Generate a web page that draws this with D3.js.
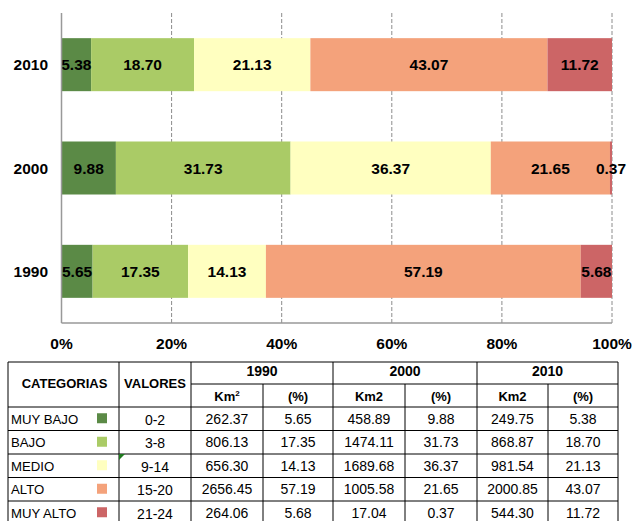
<!DOCTYPE html>
<html>
<head>
<meta charset="utf-8">
<script src="https://cdn.jsdelivr.net/npm/d3@7"></script>
<style>
  html, body { margin: 0; padding: 0; background: #fff; }
  svg { display: block; }
</style>
</head>
<body>
<svg id="chart" width="635" height="521"></svg>
<script>
// Land categories by elevation class and their share per year
const years = ["1990", "2000", "2010"];
const categories = ["MUY BAJO", "BAJO", "MEDIO", "ALTO", "MUY ALTO"];
const valueRanges = ["0-2", "3-8", "9-14", "15-20", "21-24"];
const km1990 = [262.37, 806.13, 656.30, 2656.45, 264.06];
const pct1990 = [5.65, 17.35, 14.13, 57.19, 5.68];
const km2000 = [458.89, 1474.11, 1689.68, 1005.58, 17.04];
const pct2000 = [9.88, 31.73, 36.37, 21.65, 0.37];
const km2010 = [249.75, 868.87, 981.54, 2000.85, 544.30];
const pct2010 = [5.38, 18.70, 21.13, 43.07, 11.72];
const tickValues = [0, 20, 40, 60, 80, 100];
const tickLabels = ["0%", "20%", "40%", "60%", "80%", "100%"];

const colors = ["#5b8a46", "#aacb66", "#ffffc0", "#f4a27b", "#cc6566"];
const pctByYear = { "1990": pct1990, "2000": pct2000, "2010": pct2010 };
const kmByYear = { "1990": km1990, "2000": km2000, "2010": km2010 };

const svg = d3.select("#chart");
const FONT = "'Liberation Sans', Arial, Helvetica, sans-serif";

// ---------- stacked 100% bar chart ----------
const plot = { left: 61.5, right: 612, top: 13, bottom: 323 };

const x = d3.scaleLinear().domain([0, 100]).range([plot.left, plot.right]);
const y = d3.scaleBand()
  .domain(["2010", "2000", "1990"])
  .range([plot.top, plot.bottom])
  .paddingInner(0.487)
  .paddingOuter(0.2435);

// dashed vertical gridlines
svg.append("g")
  .selectAll("line")
  .data(tickValues.slice(1))
  .join("line")
  .attr("x1", d => x(d)).attr("x2", d => x(d))
  .attr("y1", plot.top).attr("y2", plot.bottom)
  .attr("stroke", "#8c8c8c")
  .attr("stroke-width", 1)
  .attr("stroke-dasharray", "4,2");

// stacked segments
const rows = years.map(yr => {
  const obj = { year: yr };
  categories.forEach((c, i) => { obj[c] = pctByYear[yr][i]; });
  return obj;
});
const stack = d3.stack().keys(categories);
const series = stack(rows);

const segG = svg.append("g");
series.forEach((s, ci) => {
  segG.selectAll(null)
    .data(s)
    .join("rect")
    .attr("x", d => x(d[0]))
    .attr("width", d => x(d[1]) - x(d[0]))
    .attr("y", d => y(d.data.year))
    .attr("height", y.bandwidth())
    .attr("fill", colors[ci]);
});

// value labels centred on each segment
series.forEach((s, ci) => {
  segG.selectAll(null)
    .data(s)
    .join("text")
    .attr("x", d => (x(d[0]) + x(d[1])) / 2)
    .attr("y", d => y(d.data.year) + y.bandwidth() / 2)
    .attr("dy", "0.36em")
    .attr("text-anchor", "middle")
    .attr("font-family", FONT)
    .attr("font-weight", "bold")
    .attr("font-size", 15.5)
    .attr("fill", "#000")
    .text(d => (d[1] - d[0]).toFixed(2));
});

// axes lines
svg.append("line")
  .attr("x1", plot.left).attr("x2", plot.left)
  .attr("y1", plot.top).attr("y2", plot.bottom)
  .attr("stroke", "#999").attr("stroke-width", 1.5);
svg.append("line")
  .attr("x1", plot.left).attr("x2", plot.right)
  .attr("y1", plot.bottom).attr("y2", plot.bottom)
  .attr("stroke", "#999").attr("stroke-width", 1.5);

// x tick labels
svg.append("g")
  .selectAll("text")
  .data(tickValues)
  .join("text")
  .attr("x", d => x(d))
  .attr("y", 343)
  .attr("dy", "0.36em")
  .attr("text-anchor", "middle")
  .attr("font-family", FONT)
  .attr("font-weight", "bold")
  .attr("font-size", 15.5)
  .text((d, i) => tickLabels[i]);

// y category labels
svg.append("g")
  .selectAll("text")
  .data(y.domain())
  .join("text")
  .attr("x", 48)
  .attr("y", d => y(d) + y.bandwidth() / 2)
  .attr("dy", "0.36em")
  .attr("text-anchor", "end")
  .attr("font-family", FONT)
  .attr("font-weight", "bold")
  .attr("font-size", 15.5)
  .text(d => d);

// ---------- data table ----------
const colX = [8, 119, 191, 263, 333, 405, 477, 548, 618];
const rowY = [362, 384, 407, 430.5, 454, 477.5, 501, 524.5];
const tbl = svg.append("g").attr("font-family", FONT).attr("fill", "#000");
const line = (x1, y1, x2, y2) => tbl.append("line")
  .attr("x1", x1).attr("y1", y1).attr("x2", x2).attr("y2", y2)
  .attr("stroke", "#000").attr("stroke-width", 1);

// outer and horizontal rules
line(colX[0], rowY[0], colX[8], rowY[0]);
line(colX[2], rowY[1], colX[8], rowY[1]);
for (let r = 2; r < rowY.length; r++) line(colX[0], rowY[r], colX[8], rowY[r]);
// vertical rules
[0, 1, 2, 4, 6, 8].forEach(c => line(colX[c], rowY[0], colX[c], rowY[7]));
[3, 5, 7].forEach(c => line(colX[c], rowY[1], colX[c], rowY[7]));

const txt = (t, cx, cy, opts = {}) => tbl.append("text")
  .attr("x", cx).attr("y", cy).attr("dy", "0.36em")
  .attr("text-anchor", opts.anchor || "middle")
  .attr("font-size", opts.size || 14)
  .attr("font-weight", opts.bold ? "bold" : "normal")
  .text(t);

// header
txt("CATEGORIAS", (colX[0] + colX[1]) / 2 + 1, 383.5, { bold: true, size: 13 });
txt("VALORES", (colX[1] + colX[2]) / 2, 383.5, { bold: true, size: 13 });
years.forEach((yr, i) => {
  const c0 = colX[2 + i * 2], c1 = colX[3 + i * 2], c2 = colX[4 + i * 2];
  txt(yr, (c0 + c2) / 2, 371, { bold: true, size: 14 });
  const km = txt(i === 0 ? "Km" : "Km2", (c0 + c1) / 2, 396.5, { bold: true, size: 13 });
  if (i === 0) {
    km.append("tspan").attr("font-size", 8).attr("dy", "-0.6em").text("2");
  }
  txt("(%)", (c1 + c2) / 2, 396.5, { bold: true, size: 13 });
});

// body rows
categories.forEach((cat, r) => {
  const cy = (rowY[r + 2] + rowY[r + 3]) / 2;
  txt(cat, colX[0] + 3, cy, { anchor: "start", size: 13.2 });
  tbl.append("rect")
    .attr("x", 97).attr("y", cy - 5.5)
    .attr("width", 10).attr("height", 10)
    .attr("fill", colors[r]);
  txt(valueRanges[r], (colX[1] + colX[2]) / 2, cy + 1);
  years.forEach((yr, i) => {
    const c0 = colX[2 + i * 2], c1 = colX[3 + i * 2], c2 = colX[4 + i * 2];
    txt(kmByYear[yr][r].toFixed(2), (c0 + c1) / 2, cy);
    txt(pctByYear[yr][r].toFixed(2), (c1 + c2) / 2, cy);
  });
});

// cell comment marker
tbl.append("path")
  .attr("d", `M${colX[1]},${rowY[4]}h6l-6,6z`)
  .attr("fill", "#1f7a1f");
</script>
</body>
</html>
